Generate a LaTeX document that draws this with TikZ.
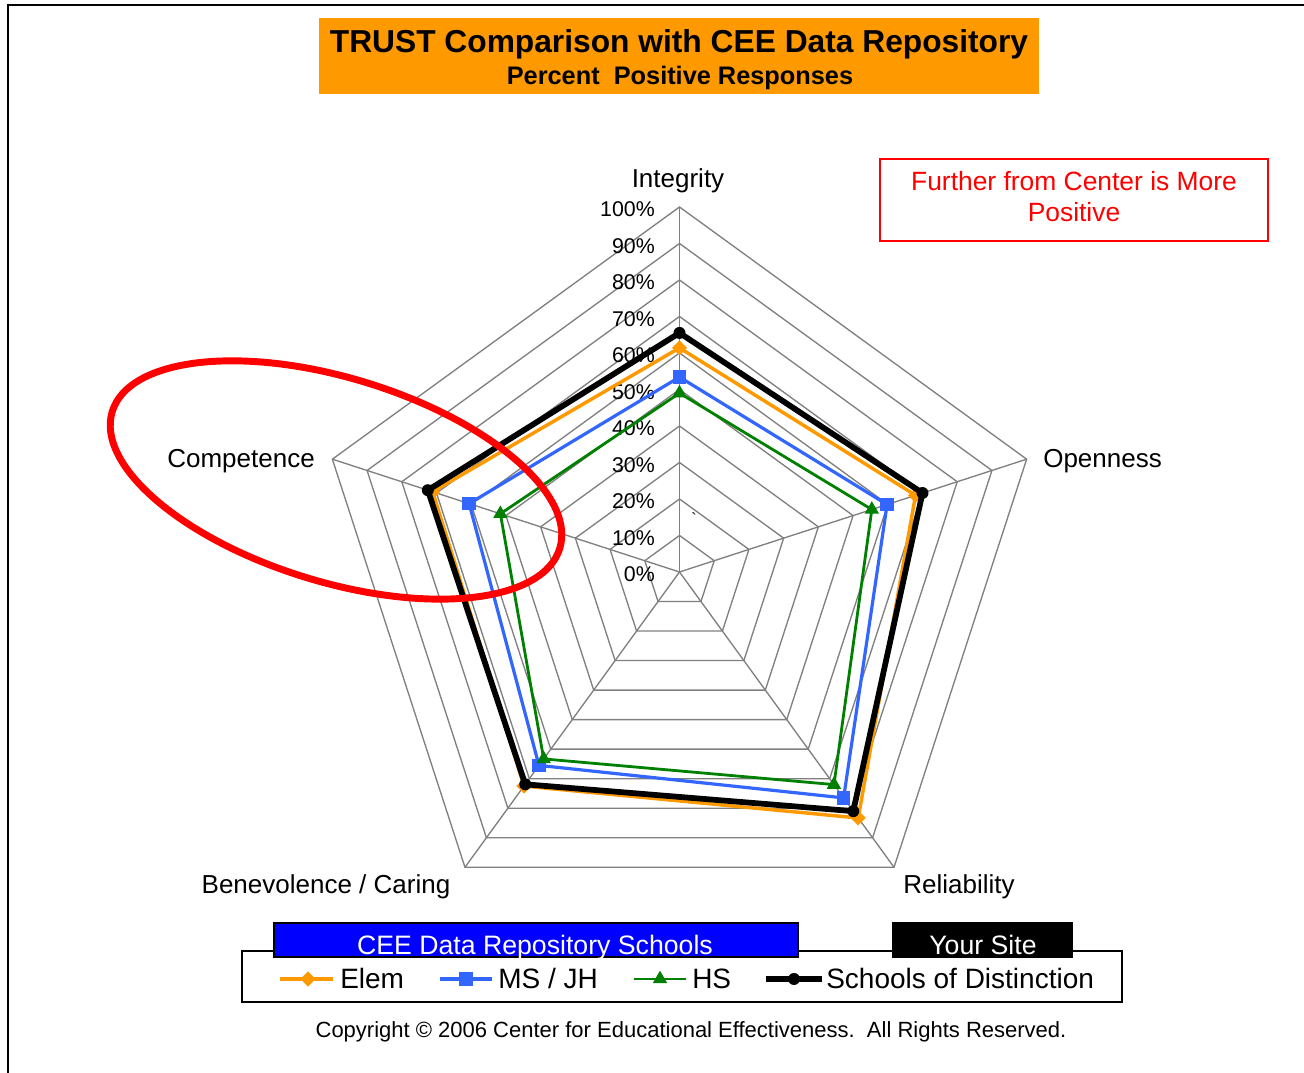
\documentclass[tikz,border=0pt]{standalone}
\usepackage{fontspec}
\setmainfont{Liberation Sans}
\usepackage{tikz}
\usetikzlibrary{
	positioning,
	calc,
	shapes.geometric,
	shapes.misc
}
\usepackage{xcolor}

\definecolor{titleorange}{HTML}{FF9900}
\definecolor{elemorange}{HTML}{FF9900}
\definecolor{msblue}{HTML}{3366FF}
\definecolor{hsgreen}{HTML}{008000}
\definecolor{gridgray}{HTML}{808080}
\definecolor{boxblue}{HTML}{0000FF}

\tikzset{
	gridline/.style={draw=gridgray, line width=1pt},
	axislabel/.style={inner sep=0pt, font=\fontsize{19.5}{22}\selectfont},
	pctlabel/.style={anchor=east, inner sep=0pt, font=\fontsize{16}{18}\selectfont},
	elemline/.style={draw=elemorange, line width=2.6pt, line join=round},
	msline/.style={draw=msblue, line width=2.4pt, line join=round},
	hsline/.style={draw=hsgreen, line width=2.1pt, line join=round},
	sodline/.style={draw=black, line width=4.3pt, line join=round},
	elemmark/.style={diamond, fill=elemorange, inner sep=0pt, minimum size=11.5pt},
	msmark/.style={rectangle, fill=msblue, inner sep=0pt, minimum size=10pt},
	hsmark/.style={regular polygon, regular polygon sides=3, fill=hsgreen, inner sep=0pt, minimum size=12.5pt},
	sodmark/.style={circle, fill=black, inner sep=0pt, minimum size=9pt},
	legendtext/.style={anchor=west, inner sep=0pt, font=\fontsize{21}{24}\selectfont},
	headbox/.style={draw=black, line width=1pt},
	headtext/.style={anchor=base, text=white, inner sep=0pt, font=\fontsize{20}{24}\selectfont}
}

\begin{document}

\begin{tikzpicture}[x=75pt, y=75pt]
	
	\useasboundingbox (0,0) rectangle (13.04,10.73);
	\fill[white] (0,0) rectangle (13.04,10.73);
	
	% frame
	\draw[line width=1.5pt] (0.08,0) -- (0.08,10.68) -- (13.04,10.68);
	
	% title
	\fill[titleorange] (3.19,9.79) rectangle (10.39,10.55);
	\node[font=\fontsize{23.8}{26}\selectfont\bfseries] (title) at (6.79,10.29) {TRUST Comparison with CEE Data Repository};
	\node[font=\fontsize{19}{22}\selectfont\bfseries] (subtitle) at (6.80,9.95) {Percent\ \ Positive Responses};
	
	% note
	\draw[red, line width=1.5pt] (8.80,8.32) rectangle (12.68,9.14);
	\node[red, align=center, font=\fontsize{19.8}{23.5}\selectfont] (note) at (10.74,8.765) {Further from Center is More\\Positive};
	
	\coordinate (center) at (6.795,5.01);
	
	\begin{scope}[shift={(center)}]
		
		% web
		\foreach \k in {1,...,10}
		\draw[gridline] (90:0.365*\k) -- (18:0.365*\k) -- (-54:0.365*\k) -- (-126:0.365*\k) -- (162:0.365*\k) -- cycle;
		\foreach \a [count=\i] in {90,18,-54,-126,162}
		\coordinate (tip-\i) at (\a:3.65);
		\foreach \i in {1,...,5}
		\draw[gridline] (0,0) -- (tip-\i);
		
		\foreach \k [evaluate=\k as \p using int(10*\k)] in {0,...,10}
		\node[pctlabel] (pct-\k) at (-0.245,0.365*\k-0.025) {\p\%};
		
		\node[font=\fontsize{12}{12}\selectfont, inner sep=0pt] (tick) at (0.145,0.53) {\textasciigrave};
		
		% series
		\foreach \v [count=\i] in {0.614,0.68,0.833,0.725,0.711}
		\coordinate (elem-\i) at ({162-72*\i}:{3.65*\v});
		\foreach \v [count=\i] in {0.534,0.598,0.765,0.655,0.606}
		\coordinate (ms-\i) at ({162-72*\i}:{3.65*\v});
		\foreach \v [count=\i] in {0.49,0.554,0.72,0.633,0.516}
		\coordinate (hs-\i) at ({162-72*\i}:{3.65*\v});
		\foreach \v [count=\i] in {0.655,0.70,0.81,0.719,0.725}
		\coordinate (sod-\i) at ({162-72*\i}:{3.65*\v});
		
	\end{scope}
	
	\draw[elemline] (elem-1) -- (elem-2) -- (elem-3) -- (elem-4) -- (elem-5) -- cycle;
	\foreach \i in {1,...,5}
	\node[elemmark] (elemdot-\i) at (elem-\i) {};
	
	\draw[msline] (ms-1) -- (ms-2) -- (ms-3) -- (ms-4) -- (ms-5) -- cycle;
	\foreach \i in {1,...,5}
	\node[msmark] (msdot-\i) at (ms-\i) {};
	
	\draw[hsline] (hs-1) -- (hs-2) -- (hs-3) -- (hs-4) -- (hs-5) -- cycle;
	\foreach \i in {1,...,5}
	\node[hsmark] (hsdot-\i) at (hs-\i) {};
	
	\draw[sodline] (sod-1) -- (sod-2) -- (sod-3) -- (sod-4) -- (sod-5) -- cycle;
	\foreach \i in {1,...,5}
	\node[sodmark] (soddot-\i) at (sod-\i) {};
	
	% axis names
	\node[axislabel] (integrity) at (6.78,8.92) {Integrity};
	\node[axislabel, anchor=west] (openness) at (10.43,6.12) {Openness};
	\node[axislabel] (reliability) at (9.59,1.86) {Reliability};
	\node[axislabel] (benevolence) at (3.26,1.86) {Benevolence / Caring};
	\node[axislabel, anchor=east] (competence) at (3.15,6.12) {Competence};
	
	% highlight
	\draw[red, line width=5.2pt, rotate around={-17:(3.36,5.93)}] (3.36,5.93) ellipse [x radius=2.34, y radius=1.02];
	
	% legend
	\draw[line width=1.5pt] (2.42,0.71) rectangle (11.22,1.22);
	\draw[headbox, fill=boxblue] (2.74,1.16) rectangle (7.98,1.50);
	\node[headtext] (repotext) at (5.35,1.18) {CEE Data Repository Schools};
	\draw[headbox, fill=black] (8.93,1.16) rectangle (10.72,1.50);
	\node[headtext] (sitetext) at (9.83,1.18) {Your Site};
	
	\coordinate (leg-elem-l) at (2.80,0.94);
	\coordinate (leg-elem-r) at (3.33,0.94);
	\draw[elemline] (leg-elem-l) -- (leg-elem-r);
	\node[elemmark] (leg-elem) at (3.08,0.94) {};
	\node[legendtext] (leg-elem-text) at (3.40,0.94) {Elem};
	
	\coordinate (leg-ms-l) at (4.40,0.94);
	\coordinate (leg-ms-r) at (4.92,0.94);
	\draw[msline] (leg-ms-l) -- (leg-ms-r);
	\node[msmark] (leg-ms) at (4.66,0.94) {};
	\node[legendtext] (leg-ms-text) at (4.98,0.94) {MS / JH};
	
	\coordinate (leg-hs-l) at (6.34,0.94);
	\coordinate (leg-hs-r) at (6.86,0.94);
	\draw[hsline] (leg-hs-l) -- (leg-hs-r);
	\node[hsmark] (leg-hs) at (6.60,0.94) {};
	\node[legendtext] (leg-hs-text) at (6.92,0.94) {HS};
	
	\coordinate (leg-sod-l) at (7.66,0.94);
	\coordinate (leg-sod-r) at (8.22,0.94);
	\draw[sodline] (leg-sod-l) -- (leg-sod-r);
	\node[sodmark] (leg-sod) at (7.94,0.94) {};
	\node[legendtext] (leg-sod-text) at (8.26,0.94) {Schools of Distinction};
	
	\node[font=\fontsize{16.5}{18}\selectfont] (copyright) at (6.91,0.41) {Copyright \textcopyright{} 2006 Center for Educational Effectiveness.\ \ All Rights Reserved.};
	
\end{tikzpicture}

\end{document}
